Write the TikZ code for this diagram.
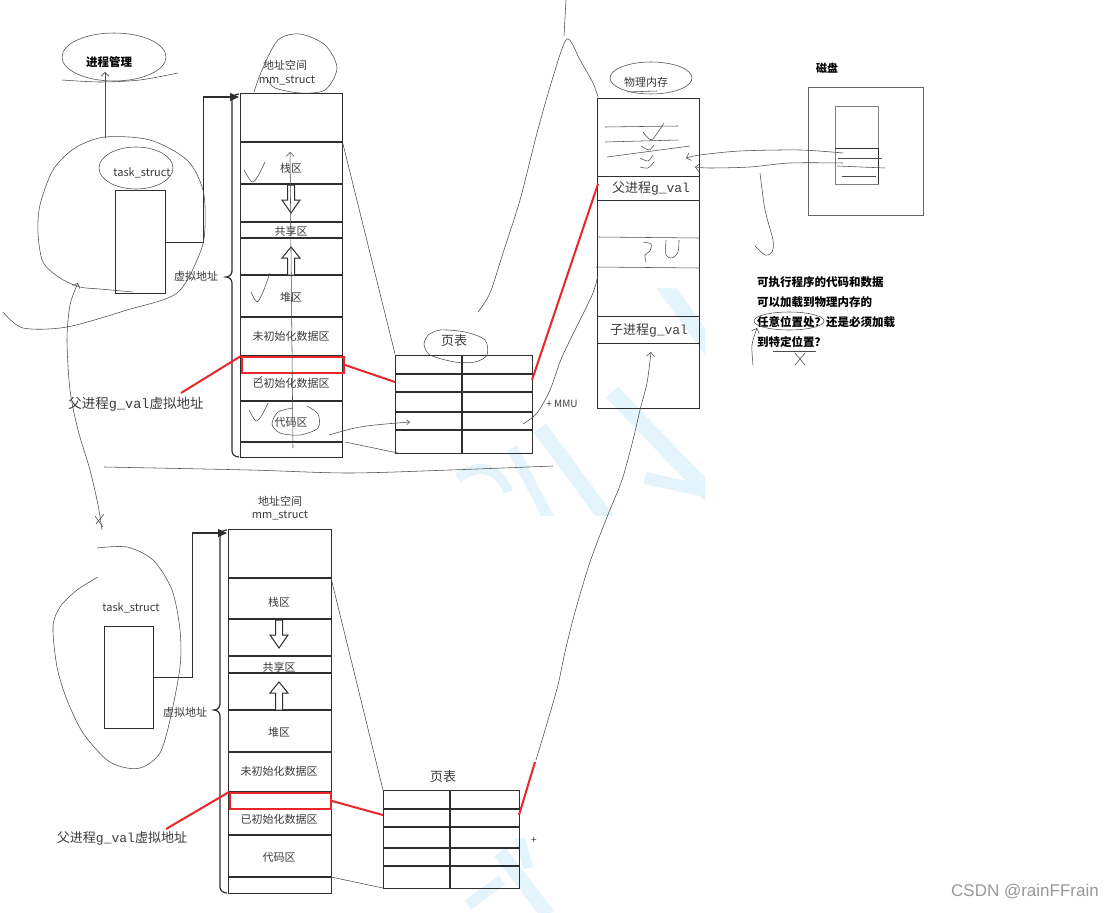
\documentclass[tikz,border=0pt]{standalone}
\usepackage{fontspec}
\setmainfont{Noto Sans CJK SC}
\newfontfamily\monof{Liberation Mono}
\newfontfamily\wmfont{Liberation Sans}
\usetikzlibrary{arrows.meta}
\definecolor{ink}{HTML}{2E2E2E}
\definecolor{txt}{HTML}{3A3A3A}
\definecolor{myred}{HTML}{E8262B}
\definecolor{wm}{HTML}{E3F4FC}
\tikzset{
  box/.style={draw=ink, line width=1.4pt, inner sep=0pt, anchor=north west},
  seg/.style={draw=ink, line width=1.2pt},
  thinseg/.style={draw=ink, line width=0.9pt},
  lbl/.style={font=\fontsize{11}{13}\selectfont, text=txt, inner sep=0pt},
  biglbl/.style={font=\fontsize{13}{15}\selectfont, text=txt, inner sep=0pt},
  boldlbl/.style={font=\fontsize{11.5}{14}\selectfont\bfseries, text=black, inner sep=0pt, anchor=west},
  hand/.style={draw=black!70, line width=0.55pt},
  redl/.style={draw=myred, line width=2pt},
  conn/.style={draw=ink, line width=1.2pt, -{Triangle[length=9pt,width=8pt]}},
  hollow/.style={draw=ink, line width=1pt, fill=white},
  barb/.style={-{Straight Barb[length=4pt,width=8pt]}},
  hdn/.pic={\draw[hollow] (-3.5,0)--(3.5,0)--(3.5,15)--(9,15)--(0,28)--(-9,15)--(-3.5,15)--cycle;},
  hup/.pic={\draw[hollow] (-3.5,0)--(3.5,0)--(3.5,-17)--(9,-17)--(0,-28)--(-9,-17)--(-3.5,-17)--cycle;}
}
\begin{document}
\begin{tikzpicture}[x=1pt,y=-1pt]
\useasboundingbox (0,0) rectangle (1107,912);
\fill[white] (0,0) rectangle (1107,912);

% ---------- watermark ----------
\begin{scope}
\clip (455,288) rectangle (705,515);
\begin{scope}[draw=wm, line cap=butt]
\draw[line width=16pt] (662,282) -- (720,362);
\draw[line width=16pt] (612,392) -- (720,505);
\draw[line width=15pt] (540,428) -- (615,530);
\draw[line width=11pt] (512,448) -- (555,530);
\draw[line width=10pt] (458,478) .. controls (478,462) and (500,468) .. (508,492);
\draw[line width=12pt] (645,478) -- (710,492);
\end{scope}
\end{scope}
\begin{scope}
\clip (460,838) rectangle (565,912);
\begin{scope}[draw=wm, line cap=butt]
\draw[line width=14pt] (500,852) -- (548,915);
\draw[line width=11pt] (468,905) -- (502,880);
\draw[line width=10pt] (520,838) -- (528,868);
\end{scope}
\end{scope}

% ---------- top part ----------
\node[lbl, font=\fontsize{11.5}{14}\selectfont\bfseries, text=black] (pm0) at (109,62) {进程管理};
\node[lbl] (ts1lbl) at (142,173) {task\_struct};
\node[box, minimum width=50pt, minimum height=103pt] (ts1) at (115,190) {};

\node[lbl] (as1t1) at (285,65) {地址空间};
\node[lbl] (as1t2) at (287,80) {mm\_struct};
\node[box, minimum width=102pt, minimum height=364pt] (as1) at (240,93) {};
\foreach \y in {142,184,222,238,275,317,356,401,442} \draw[seg] (240,\y)--(342,\y);
\node[lbl] (s11) at (291,168) {栈区};
\node[lbl] (s12) at (291,231) {共享区};
\node[lbl] (s13) at (291,297) {堆区};
\node[lbl] (s14) at (291,336) {未初始化数据区};
\node[lbl] (s15) at (291,383) {已初始化数据区};
\node[lbl] (s16) at (291,422) {代码区};
\pic at (291,185) {hdn};
\pic at (291,275) {hup};
\node[draw=myred, line width=2pt, inner sep=0pt, anchor=north west, minimum width=102pt, minimum height=16pt] (rr1) at (241,356) {};

\draw[seg] (239,94) to[out=180,in=90] (232,100) -- (232,271) to[out=270,in=0] (226,277) to[out=0,in=90] (232,283) -- (232,451) to[out=270,in=180] (239,457);
\node[lbl] (va1) at (196,276) {虚拟地址};

\coordinate (as1in) at (239,97);
\draw[conn] (ts1.east) -- ++(37,0) |- (as1in);

\node[box, minimum width=137pt, minimum height=98pt] (pt1) at (395,355) {};
\foreach \y in {374,392,412,430} \draw[seg] (395,\y)--(532,\y);
\draw[ink, line width=2.6pt] (462,355)--(462,453);
\node[biglbl] (pt1lbl) at (454,341) {页表};
\node[lbl, font=\fontsize{10}{12}\selectfont] (mmu) at (562,404) {+ MMU};

\node[box, minimum width=102pt, minimum height=310pt] (pm) at (597,98) {};
\foreach \y in {176,200,316,343} \draw[thinseg] (597,\y)--(699,\y);
\node[lbl] (pmlbl) at (646,82) {物理内存};
\node[biglbl] (pf) at (651,188) {父进程{\monof g\_val}};
\node[biglbl] (pc) at (649,330) {子进程{\monof g\_val}};

\node[lbl, font=\fontsize{11}{13}\selectfont\bfseries, text=black] (disklbl) at (827,68) {磁盘};
\node[draw=black!60, line width=0.8pt, inner sep=0pt, anchor=north west, minimum width=115pt, minimum height=128pt] (disk) at (808,87) {};
\node[draw=black!50, line width=0.8pt, inner sep=0pt, anchor=north west, minimum width=43pt, minimum height=78pt] (din) at (835,106) {};
\draw[ink, line width=0.9pt] (835,148)--(878,148)--(878,184);

\node[boldlbl] (q1) at (757,282) {可执行程序的代码和数据};
\node[boldlbl] (q2) at (757,302) {可以加载到物理内存的};
\node[boldlbl] (q3) at (757,322) {任意位置处？还是必须加载};
\node[boldlbl] (q4) at (757,342) {到特定位置？};

\node[biglbl, font=\fontsize{13.5}{16}\selectfont] (lab1) at (136,404) {父进程{\monof g\_val}虚拟地址};

% red connectors top
\coordinate (lab1r) at (181,393);
\coordinate (pt1in) at (395,382);
\coordinate (pt1out) at (532,380);
\coordinate (pmin) at (598,184);
\draw[redl] (lab1r) -- (rr1.north west);
\draw[redl] (rr1.east) -- (pt1in);
\draw[redl] (pt1out) -- (pmin);

% thin connectors top
\coordinate (c1) at (343,144);
\coordinate (c2) at (395,354);
\draw[hand] (c1) -- (c2);
\coordinate (c3) at (329,435);
\coordinate (c4) at (410,422);
\draw[hand, -{Straight Barb[length=3pt,width=5pt]}] (c3) .. controls (360,426) .. (c4);
\coordinate (c5) at (345,442);
\coordinate (c6) at (398,453);
\draw[hand] (c5) -- (c6);

% ---------- bottom part ----------
\node[lbl] (ts2lbl) at (131,608) {task\_struct};
\node[box, minimum width=49pt, minimum height=102pt] (ts2) at (104,626) {};

\node[lbl] (as2t1) at (280,501) {地址空间};
\node[lbl] (as2t2) at (280,515) {mm\_struct};
\node[box, minimum width=103pt, minimum height=364pt] (as2) at (228,529) {};
\foreach \y in {578,619,656,673,710,752,792,835,877} \draw[seg] (228,\y)--(331,\y);
\node[lbl] (s21) at (279,602) {栈区};
\node[lbl] (s22) at (279,667) {共享区};
\node[lbl] (s23) at (279,732) {堆区};
\node[lbl] (s24) at (279,771) {未初始化数据区};
\node[lbl] (s25) at (279,819) {已初始化数据区};
\node[lbl] (s26) at (279,857) {代码区};
\pic at (279,620) {hdn};
\pic at (279,710) {hup};
\node[draw=myred, line width=2pt, inner sep=0pt, anchor=north west, minimum width=101pt, minimum height=16pt] (rr2) at (229,792) {};

\draw[seg] (227,530) to[out=180,in=90] (220,536) -- (220,704) to[out=270,in=0] (214,710) to[out=0,in=90] (220,716) -- (220,887) to[out=270,in=180] (227,893);
\node[lbl] (va2) at (185,712) {虚拟地址};

\coordinate (as2in) at (227,533);
\draw[conn] (ts2.east) -- ++(38,0) |- (as2in);

\node[box, minimum width=136pt, minimum height=98pt] (pt2) at (383,790) {};
\foreach \y in {809,827,848,866} \draw[seg] (383,\y)--(519,\y);
\draw[ink, line width=2.6pt] (450,790)--(450,888);
\node[biglbl] (pt2lbl) at (443,777) {页表};
\node[lbl, font=\fontsize{10}{12}\selectfont] (plus2) at (534,840) {+};

\node[biglbl] (lab2) at (122,838) {父进程{\monof g\_val}虚拟地址};

\coordinate (lab2r) at (166,829);
\coordinate (pt2in) at (383,815);
\coordinate (pt2out) at (519,815);
\coordinate (up2) at (535,762);
\draw[redl] (lab2r) -- (rr2.north west);
\draw[redl] (rr2.east) -- (pt2in);
\draw[redl] (pt2out) -- (up2);

\coordinate (d1) at (331,578);
\coordinate (d2) at (383,790);
\draw[hand] (d1) -- (d2);
\coordinate (d3) at (331,877);
\coordinate (d4) at (383,888);
\draw[hand] (d3) -- (d4);

% ---------- freehand scribbles ----------
\draw[hand] (114,57) ellipse [x radius=52, y radius=24];
\draw[hand] plot[smooth] coordinates {(62,80) (100,82) (140,80) (178,73)};
\draw[hand] (136,168) ellipse [x radius=37, y radius=21];
\draw[hand] plot[smooth] coordinates {(254,92) (262,70) (278,40) (300,34) (325,45) (337,68) (325,90) (300,93) (275,88) (268,80)};
\draw[hand] (651,78) ellipse [x radius=41, y radius=16];
\draw[hand] (627,92) -- (657,91);
\draw[hand] plot[smooth] coordinates {(428,335) (440,330) (465,332) (485,340) (487,355) (475,362) (455,362) (430,355) (424,344) (428,335)};
\draw[hand] plot[smooth] coordinates {(307,406) (318,414) (318,428) (300,435) (280,433) (272,424) (278,412) (293,408)};
\draw[hand] (789,321) ellipse [x radius=35, y radius=9];

\draw[hand] plot[smooth] coordinates {(133,292) (100,289) (80,287) (60,278) (43,262) (38,233) (40,205) (53,170) (75,148) (105,137) (150,140) (187,160) (203,190) (205,227) (200,253) (177,293) (127,310) (67,327) (23,328) (3,312)};
\draw[hand, barb] plot[smooth] coordinates {(102,530) (98,505) (90,470) (78,430) (70,390) (67,340) (70,305) (78,283)};
\draw[hand] (96,524) -- (104,514) (95,516) -- (103,527);
\draw[hand, barb] (105,138) -- (105,72);

\draw[hand] plot[smooth] coordinates {(97,548) (127,547) (153,560) (172,590) (180,630) (180,667) (170,720) (160,753) (143,767) (127,768) (107,760) (83,733) (67,700) (57,667) (53,627) (60,607) (77,590) (98,577)};

\draw[hand, barb] (293,448) -- (290,152);
\draw[hand] plot[smooth] coordinates {(244,170) (252,182) (258,176) (265,162)};
\draw[hand] plot[smooth] coordinates {(251,292) (257,302) (263,292) (270,273)};
\draw[hand] plot[smooth] coordinates {(249,410) (256,421) (262,415) (268,403)};
\draw[hand] (255,383) -- (262,376);

\draw[hand] plot[smooth] coordinates {(478,312) (490,293) (503,253) (520,200) (537,133) (553,77) (567,39) (580,60) (593,83) (598,97)};
\draw[hand] (566,0) -- (564,36);
\draw[hand] plot[smooth] coordinates {(523,424) (537,413) (550,390) (562,357) (580,320) (593,293) (598,275)};
\draw[hand] plot[smooth] coordinates {(104,467) (250,470) (348,473) (450,470) (553,466)};
\draw[hand, barb] plot[smooth] coordinates {(536,760) (548,720) (558,685) (565,652) (575,612) (590,562) (607,517) (622,480) (633,440) (640,410) (647,383) (651,352)};

\draw[hand] (605,127) -- (678,126);
\draw[hand] (605,142) -- (678,140);
\draw[hand] (607,157) -- (690,146);
\draw[hand] plot[smooth] coordinates {(643,132) (651,140) (658,132) (664,123)};
\draw[hand] plot[smooth] coordinates {(641,146) (649,150) (654,145)};
\draw[hand] plot[smooth] coordinates {(640,158) (648,161) (653,155)};
\draw[hand] plot[smooth] coordinates {(640,167) (648,168) (654,162)};
\draw[hand] (597,237) -- (700,238);
\draw[hand] (596,267) -- (700,268);
\draw[hand] plot[smooth] coordinates {(643,242) (651,244) (650,251) (645,255) (646,262)};
\draw[hand] plot[smooth] coordinates {(666,240) (666,255) (672,258) (678,252) (679,240)};

\draw[hand] (838,158) -- (882,158);
\draw[hand] (837,166) -- (885,168);
\draw[hand] (842,176) -- (876,176);
\draw[hand, barb] plot[smooth] coordinates {(843,153) (800,150) (740,151) (700,155) (686,158)};
\draw[hand, barb] plot[smooth] coordinates {(843,163) (790,163) (750,167) (710,168) (695,167)};
\draw[hand] plot[smooth] coordinates {(760,173) (765,210) (773,240) (772,252) (765,255) (755,246)};

\draw[hand, barb] plot[smooth] coordinates {(753,365) (752,345) (757,328)};
\draw[hand] (773,351) -- (816,351);
\draw[hand] (795,353) -- (805,365) (805,353) -- (795,365);

\node[font=\wmfont\fontsize{17}{20}\selectfont, text=black!40, anchor=east, inner sep=0pt] (wmtxt) at (1099,892) {CSDN @rainFFrain};
\end{tikzpicture}
\end{document}
